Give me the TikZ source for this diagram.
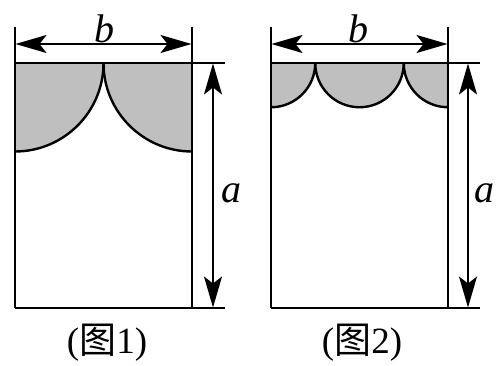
\documentclass[tikz,border=0pt]{standalone}
\usepackage{fontspec}
\setmainfont{Liberation Serif}
\newfontfamily\cjk{Noto Sans CJK SC}
\usetikzlibrary{arrows.meta}
\begin{document}
\begin{tikzpicture}[x=1pt,y=1pt,
  edge/.style={line width=2.6pt},
  shade/.style={fill=black!25},
  arcline/.style={line width=2.4pt},
  dim/.style={line width=2pt,{Stealth[length=31pt,width=18pt,inset=7pt]}-{Stealth[length=31pt,width=18pt,inset=7pt]}, shorten <=0.5pt, shorten >=0.5pt},
  lbl/.style={font=\fontsize{40}{42}\selectfont\itshape, inner sep=0pt},
  figcap/.style={font=\fontsize{37}{40}\selectfont, inner sep=0pt}]
\useasboundingbox (0,0) rectangle (496,365);
% ---------- Figure 1 ----------
\fill[shade] (15,302) -- (15,213.5) arc[start angle=270,end angle=360,radius=88.5] -- cycle;
\fill[shade] (192,302) -- (192,213.5) arc[start angle=270,end angle=180,radius=88.5] -- cycle;
\draw[arcline] (15,213.5) arc[start angle=270,end angle=360,radius=88.5];
\draw[arcline] (192,213.5) arc[start angle=270,end angle=180,radius=88.5];
\coordinate (l1t) at (15,338);
\coordinate (l1b) at (15,57);
\coordinate (r1t) at (192,338);
\coordinate (r1b) at (192,57);
\coordinate (t1l) at (15,302);
\coordinate (t1r) at (225,302);
\coordinate (b1l) at (15,57);
\coordinate (b1r) at (225,57);
\draw[edge] (l1t) -- (l1b);
\draw[edge] (r1t) -- (r1b);
\draw[edge] (t1l) -- (t1r);
\draw[edge] (b1l) -- (b1r);
\coordinate (bw1l) at (15,321);
\coordinate (bw1r) at (192,321);
\draw[dim] (bw1l) -- (bw1r);
\coordinate (ah1t) at (213,302);
\coordinate (ah1b) at (213,57);
\draw[dim] (ah1t) -- (ah1b);
\node[lbl] (b1) at (104,336) {b};
\node[lbl] (a1) at (231,172) {a};
\node[figcap] (c1) at (107,22) {({\cjk 图}1)};
% ---------- Figure 2 ----------
\fill[shade] (271,302) -- (271,257.75) arc[start angle=270,end angle=360,radius=44.25]
  arc[start angle=180,end angle=360,radius=44.25]
  arc[start angle=180,end angle=270,radius=44.25] -- (448,302) -- cycle;
\draw[arcline] (271,257.75) arc[start angle=270,end angle=360,radius=44.25]
  arc[start angle=180,end angle=360,radius=44.25]
  arc[start angle=180,end angle=270,radius=44.25];
\coordinate (l2t) at (271,338);
\coordinate (l2b) at (271,57);
\coordinate (r2t) at (448,338);
\coordinate (r2b) at (448,57);
\coordinate (t2l) at (271,302);
\coordinate (t2r) at (480,302);
\coordinate (b2l) at (271,57);
\coordinate (b2r) at (480,57);
\draw[edge] (l2t) -- (l2b);
\draw[edge] (r2t) -- (r2b);
\draw[edge] (t2l) -- (t2r);
\draw[edge] (b2l) -- (b2r);
\coordinate (bw2l) at (271,321);
\coordinate (bw2r) at (448,321);
\draw[dim] (bw2l) -- (bw2r);
\coordinate (ah2t) at (468,302);
\coordinate (ah2b) at (468,57);
\draw[dim] (ah2t) -- (ah2b);
\node[lbl] (b2) at (358,336) {b};
\node[lbl] (a2) at (484,172) {a};
\node[figcap] (c2) at (362,22) {({\cjk 图}2)};
\end{tikzpicture}
\end{document}
